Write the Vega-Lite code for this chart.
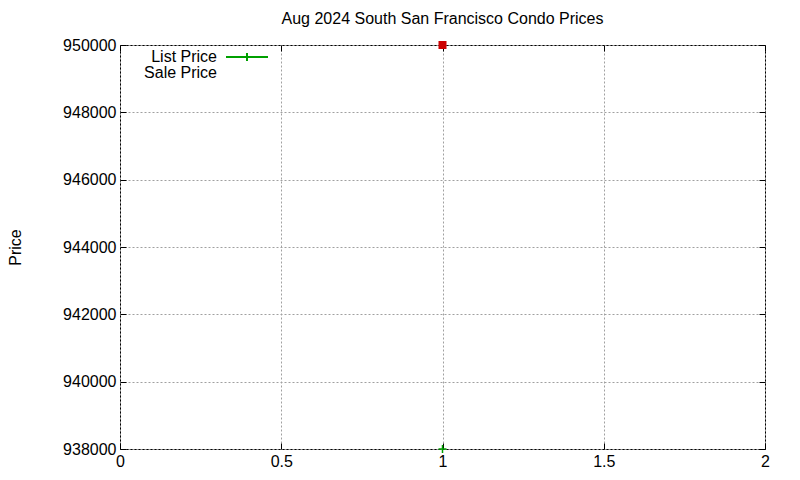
{
  "$schema": "https://vega.github.io/schema/vega-lite/v6.json",
  "description": "Aug 2024 South San Francisco condo list and sale prices.",
  "width": 645,
  "height": 404,
  "autosize": "none",
  "padding": {"left": 120, "top": 45, "right": 35, "bottom": 31},
  "title": {
    "text": "Aug 2024 South San Francisco Condo Prices",
    "fontSize": 16,
    "fontWeight": "normal",
    "font": "Liberation Sans",
    "color": "#000000",
    "anchor": "middle",
    "offset": 10
  },
  "data": {
    "values": [
      {"series": "List Price", "x": 1, "price": 938000},
      {"series": "Sale Price", "x": 1, "price": 950000}
    ]
  },
  "layer": [
    {
      "transform": [{"filter": "datum.series === 'List Price'"}],
      "mark": {
        "type": "point",
        "shape": "M-1,0H1M0,-1V1",
        "size": 64,
        "strokeWidth": 1.5,
        "stroke": "#00a000",
        "opacity": 1
      },
      "encoding": {
        "x": {
          "field": "x",
          "type": "quantitative",
          "scale": {"domain": [0, 2], "nice": false, "zero": false},
          "axis": {
            "orient": "bottom",
            "values": [0, 0.5, 1, 1.5, 2],
            "format": "~g",
            "title": null,
            "grid": true
          }
        },
        "y": {
          "field": "price",
          "type": "quantitative",
          "scale": {"domain": [938000, 950000], "nice": false, "zero": false},
          "axis": {
            "orient": "left",
            "values": [938000, 940000, 942000, 944000, 946000, 948000, 950000],
            "format": "d",
            "title": "Price",
            "titlePadding": 39,
            "grid": true
          }
        }
      }
    },
    {
      "transform": [{"filter": "datum.series === 'Sale Price'"}],
      "mark": {"type": "point", "shape": "M-1,-1H1V1H-1Z", "size": 64, "filled": true, "fill": "#cc0000", "opacity": 1},
      "encoding": {
        "x": {
          "field": "x",
          "type": "quantitative",
          "axis": {"orient": "top", "values": [0, 0.5, 1, 1.5, 2], "labels": false, "title": null, "grid": false}
        },
        "y": {
          "field": "price",
          "type": "quantitative",
          "axis": {
            "orient": "right",
            "values": [938000, 940000, 942000, 944000, 946000, 948000, 950000],
            "labels": false,
            "title": null,
            "grid": false
          }
        }
      }
    },
    {
      "mark": {"type": "point", "size": 64, "opacity": 0},
      "encoding": {
        "x": {"field": "x", "type": "quantitative", "axis": null},
        "y": {"field": "price", "type": "quantitative", "axis": null},
        "shape": {
          "field": "series",
          "type": "nominal",
          "scale": {
            "domain": ["List Price", "Sale Price"],
            "range": ["M-5.25,0H5.25M0,-1V1", "M-1,-1H1V1H-1Z"]
          }
        },
        "stroke": {
          "field": "series",
          "type": "nominal",
          "scale": {
            "domain": ["List Price", "Sale Price"],
            "range": ["#00a000", "transparent"]
          }
        },
        "fill": {
          "field": "series",
          "type": "nominal",
          "scale": {
            "domain": ["List Price", "Sale Price"],
            "range": ["transparent", "#cc0000"]
          },
          "legend": {
            "title": null,
            "orient": "none",
            "legendX": 119,
            "legendY": 4,
            "padding": 0,
            "rowPadding": 0,
            "symbolSize": 64,
            "symbolStrokeWidth": 2,
            "symbolOpacity": 1,
            "symbolFillColor": "transparent",
            "symbolStrokeColor": "transparent",
            "labelAlign": "right",
            "labelOffset": -38,
            "labelFontSize": 16,
            "labelFont": "Liberation Sans",
            "labelColor": "#000000"
          }
        }
      }
    }
  ],
  "resolve": {"axis": {"x": "independent", "y": "independent"}},
  "config": {
    "view": {"stroke": "#000000", "strokeWidth": 1},
    "axis": {
      "domain": false,
      "tickColor": "#000000",
      "tickSize": -6,
      "labelFont": "Liberation Sans",
      "labelFontSize": 16,
      "labelColor": "#000000",
      "labelPadding": 10,
      "labelFlush": false,
      "titleFont": "Liberation Sans",
      "titleFontSize": 16,
      "titleFontWeight": "normal",
      "titleColor": "#000000",
      "gridColor": "#a0a0a0",
      "gridDash": [2, 2],
      "gridOpacity": 1
    }
  }
}
